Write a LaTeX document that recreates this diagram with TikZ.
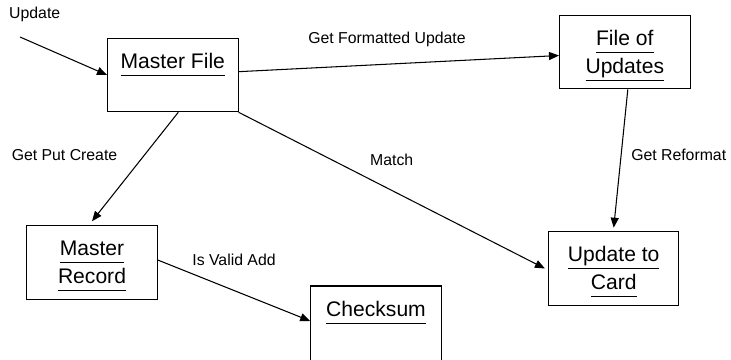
\documentclass[tikz,border=0pt]{standalone}
\usepackage{fontspec}
\setmainfont{Liberation Sans}
\usetikzlibrary{arrows.meta,positioning}
\newcommand{\uln}[1]{\underline{#1\vphantom{p}}}

\begin{document}
\begin{tikzpicture}[
        box/.style={draw, line width=0.6pt, minimum width=2.61cm, minimum height=1.47cm, inner sep=0pt},
        boxtext/.style={font=\fontsize{12}{15.9}\selectfont, align=center, inner sep=0pt},
        flow/.style={line width=0.6pt, -{Triangle[length=0.2cm,width=0.16cm]}},
        tag/.style={font=\fontsize{9}{11}\selectfont, anchor=base, inner sep=0pt}
    ]
            \useasboundingbox (0,0) rectangle (14.62,7.18);

            \node[box] (mf) at (3.456,5.68) {};
            \node[box] (fou) at (12.496,6.136) {};
            \node[box] (mr) at (1.84,1.93) {};
            \node[box] (utc) at (12.274,1.81) {};
            \node[box, minimum height=1.52cm] (cs) at (7.52,0.70) {};

            \node[boxtext, below=0.3cm of mf.north] (mftext) {\uln{Master File}};
            \node[boxtext, below=0.3cm of fou.north] (foutext) {\uln{File of}\\\uln{Updates}};
            \node[boxtext, below=0.3cm of mr.north] (mrtext) {\uln{Master}\\\uln{Record}};
            \node[boxtext, below=0.3cm of utc.north] (utctext) {\uln{Update to}\\\uln{Card}};
            \node[boxtext, below=0.3cm of cs.north] (cstext) {\uln{Checksum}};

            \coordinate (in) at (0.40,6.44);

            \draw[flow] (in) -- (mf.west);
            \draw[flow] (mf) -- (fou);
            \draw[flow] ([xshift=0.11cm]mf.south) -- ([yshift=0.08cm]mr.north);
            \draw[flow] (mf.south east) -- ([xshift=-0.06cm]utc.west);
            \draw[flow] ([xshift=0.06cm]fou.south) -- ([yshift=0.07cm]utc.north);
            \draw[flow] ([yshift=0.05cm]mr.east) -- ([yshift=0.06cm]cs.west);

            \node[tag] (updtag) at (0.694,6.814) {Update};
            \node[tag] (gfutag) at (7.74,6.314) {Get Formatted Update};
            \node[tag] (gpctag) at (1.29,3.98) {Get Put Create};
            \node[tag] (mtag) at (7.834,3.866) {Match};
            \node[tag] (grtag) at (13.574,3.98) {Get Reformat};
            \node[tag] (ivatag) at (4.68,1.88) {Is Valid Add};
\end{tikzpicture}
\end{document}
